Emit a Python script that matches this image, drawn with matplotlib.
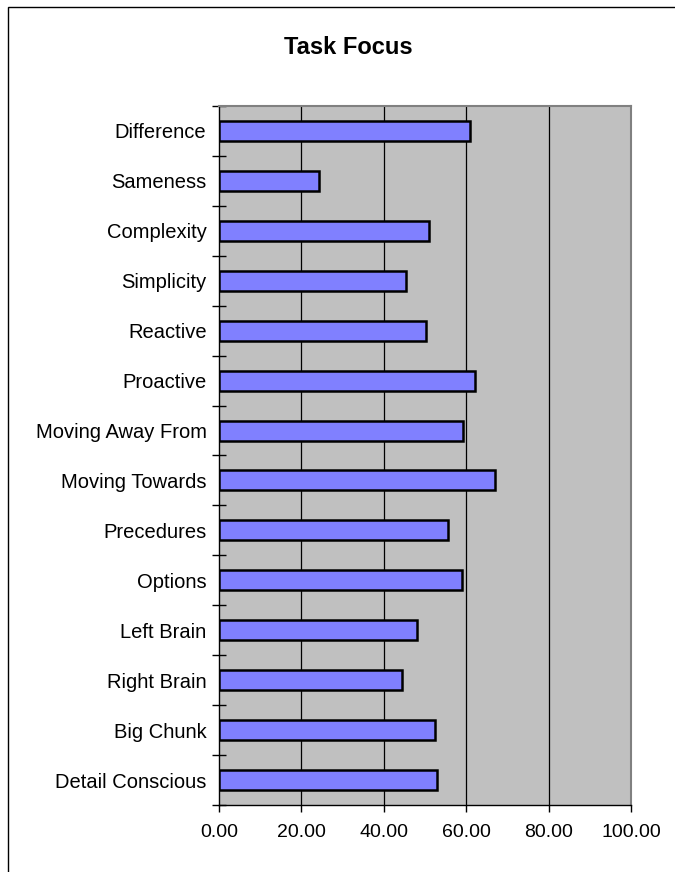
import matplotlib.pyplot as plt
from matplotlib.patches import Rectangle
import numpy as np

plt.rcParams['font.family'] = ['Liberation Sans', 'DejaVu Sans']

categories = ['Difference', 'Sameness', 'Complexity', 'Simplicity', 'Reactive',
              'Proactive', 'Moving Away From', 'Moving Towards', 'Precedures',
              'Options', 'Left Brain', 'Right Brain', 'Big Chunk', 'Detail Conscious']
values = [61.0, 24.2, 51.0, 45.4, 50.2, 62.1, 59.2, 67.0, 55.7, 59.1,
          48.0, 44.5, 52.4, 52.8]
x_ticks = [0, 20, 40, 60, 80, 100]
x_labels = ['0.00', '20.00', '40.00', '60.00', '80.00', '100.00']

fig = plt.figure(figsize=(6.75, 8.72), dpi=100)

# outer chart frame (only left/top visible in the reference)
fig.patches.append(Rectangle((8 / 675, -0.1), 1.2, (872 - 7) / 872 + 0.1,
                             transform=fig.transFigure, fill=False,
                             edgecolor='black', linewidth=1.0))

ax = fig.add_axes([219 / 675, 67 / 872, 412 / 675, 699 / 872])
ax.set_facecolor('#C0C0C0')

y = np.arange(len(categories))
ax.barh(y, values, height=0.4, color='#8080FF', edgecolor='black',
        linewidth=1.8, zorder=3)

ax.set_xlim(0, 100)
ax.set_ylim(len(categories) - 0.5, -0.5)

ax.set_xticks(x_ticks)
ax.set_xticklabels(x_labels, fontsize=14)
ax.set_yticks(y)
ax.set_yticklabels(categories, fontsize=14.5)
ax.set_yticks(np.arange(len(categories) + 1) - 0.5, minor=True)

ax.tick_params(axis='y', which='major', length=0, pad=9)
ax.tick_params(axis='y', which='minor', direction='inout', length=10, width=1)
ax.tick_params(axis='x', which='major', direction='out', length=5, width=1, pad=9)

for gx in x_ticks[1:-1]:
    ax.axvline(gx, color='black', linewidth=0.9, zorder=1)

for side in ['top', 'right']:
    ax.spines[side].set_color('#808080')
    ax.spines[side].set_linewidth(1.5)
for side in ['left', 'bottom']:
    ax.spines[side].set_color('black')
    ax.spines[side].set_linewidth(1.0)

fig.text(348 / 675, 1 - 47 / 872, 'Task Focus', ha='center', va='center',
         fontsize=17, fontweight='bold')

fig.savefig('out.png', dpi=100)
